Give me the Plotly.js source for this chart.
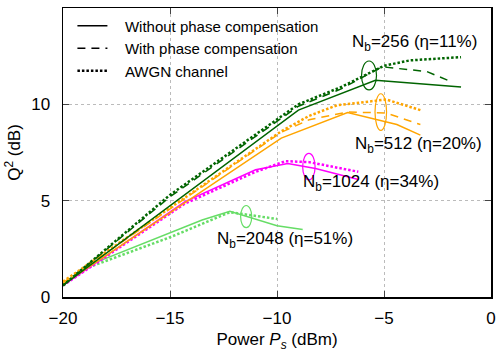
<!DOCTYPE html>
<html>
<head>
<meta charset="utf-8">
<script src="https://cdn.plot.ly/plotly-3.0.1.min.js"></script>
<style>
  body { margin: 0; background: #fff; }
  #chart { width: 499px; height: 352px; }
</style>
</head>
<body>
<div id="chart"></div>
<script>
// ----- data (power in dBm, Q^2 in dB) -----
const nb256SolidX = [-20, -9, -5.4, -1.4];
const nb256SolidY = [0.6, 9.7, 11.25, 10.9];
const nb256DashX = [-20, -15, -9, -7, -5.1, -3, -1.8];
const nb256DashY = [0.6, 5.2, 9.9, 10.8, 11.95, 11.7, 11.15];
const nb256DotX = [-20, -15, -9, -7, -5, -3.8, -1.4];
const nb256DotY = [0.6, 5.3, 10.0, 10.9, 12.0, 12.28, 12.45];

const nb512SolidX = [-20, -9.8, -6.7, -4.4, -3.3];
const nb512SolidY = [0.65, 8.25, 9.57, 8.95, 8.4];
const nb512DashX = [-20, -9.8, -8.5, -6.7, -4.9, -3.3];
const nb512DashY = [0.75, 8.55, 9.2, 9.6, 9.55, 8.95];
const nb512DotX = [-20, -9.8, -8.5, -7.2, -4.9, -3.3];
const nb512DotY = [0.8, 8.6, 9.4, 9.95, 10.25, 9.7];

const nb1024SolidX = [-20, -14.3, -11, -9.5, -8.2, -6.2];
const nb1024SolidY = [0.6, 4.95, 6.6, 6.93, 6.67, 6.1];
const nb1024DotX = [-20, -14.3, -11, -9.6, -8.5, -6.2];
const nb1024DotY = [0.6, 4.85, 6.5, 7.05, 7.0, 6.5];

const nb2048SolidX = [-20, -18.9, -13.5, -12.2, -10, -8.8];
const nb2048SolidY = [0.6, 1.6, 4.0, 4.45, 3.7, 3.5];
const nb2048DotX = [-20, -18.9, -15, -12.2, -10];
const nb2048DotY = [0.6, 1.5, 3.1, 4.4, 4.05];

const groupLabels = ["256 (η=11%)", "512 (η=20%)", "1024 (η=34%)", "2048 (η=51%)"];
const labelX = [-6.6, -6.45, -8.9, -12.9];
const labelY = [13.2, 7.9, 5.9, 2.95];
// loops marking each group: [x0, x1, y0, y1]
const loopBoxes = [
  [-6.05, -5.35, 10.75, 12.25],
  [-5.42, -4.88, 8.65, 10.55],
  [-8.8, -8.22, 6.08, 7.45],
  [-11.7, -11.18, 3.6, 4.75]
];

const colors = ["#006400", "#ffa500", "#ff00ff", "#66dd66"];

function line(x, y, color, dash, width) {
  return {
    x: x, y: y, type: "scatter", mode: "lines", showlegend: false,
    line: { color: color, dash: dash, width: width }, hoverinfo: "skip"
  };
}

const DOT = "2.5px,2px";

const traces = [
  line(nb2048SolidX, nb2048SolidY, colors[3], "solid", 1.5),
  line(nb2048DotX, nb2048DotY, colors[3], DOT, 2.5),
  line(nb1024SolidX, nb1024SolidY, colors[2], "solid", 1.5),
  line(nb1024DotX, nb1024DotY, colors[2], DOT, 2.5),
  line(nb512SolidX, nb512SolidY, colors[1], "solid", 1.5),
  line(nb512DashX, nb512DashY, colors[1], "8px,6px", 1.5),
  line(nb512DotX, nb512DotY, colors[1], DOT, 2.5),
  line(nb256SolidX, nb256SolidY, colors[0], "solid", 1.5),
  line(nb256DashX, nb256DashY, colors[0], "8px,6px", 1.5),
  line(nb256DotX, nb256DotY, colors[0], DOT, 2.5)
];

// legend-only entries
const legendNames = ["Without phase compensation", "With phase compensation", "AWGN channel"];
const legendDash = ["solid", "8px,6px", DOT];
legendNames.forEach((name, i) => {
  traces.push({
    x: [null], y: [null], type: "scatter", mode: "lines",
    name: "\u00a0\u00a0\u00a0" + name,
    line: { color: "#000", dash: legendDash[i], width: i === 2 ? 2.5 : 1.5 }
  });
});

const annotations = groupLabels.map((t, i) => ({
  x: labelX[i], y: labelY[i], xref: "x", yref: "y",
  text: "N<sub>b</sub>=" + t, showarrow: false, xanchor: "left",
  font: { size: 17, color: "#000" }
}));

const shapes = loopBoxes.map((b, i) => ({
  type: "circle", xref: "x", yref: "y",
  x0: b[0], x1: b[1], y0: b[2], y1: b[3],
  line: { color: colors[i], width: 1.2 }
}));

const axisFont = { family: "Liberation Sans, Arial, sans-serif", size: 17, color: "#000" };

const layout = {
  width: 499, height: 352,
  margin: { l: 63, r: 8, t: 8, b: 55 },
  paper_bgcolor: "#fff", plot_bgcolor: "#fff",
  font: axisFont,
  showlegend: true,
  legend: {
    x: 0.022, y: 0.995, xanchor: "left", yanchor: "top",
    bgcolor: "rgba(0,0,0,0)", font: { size: 15, color: "#000" },
    tracegroupgap: 0
  },
  xaxis: {
    range: [-20, 0], tickvals: [-20, -15, -10, -5, 0],
    ticks: "inside", ticklen: 6, mirror: "ticks", ticklabelstandoff: 5,
    showline: true, linecolor: "#000", linewidth: 1.5,
    showgrid: true, gridcolor: "#bbb", griddash: "dot", gridwidth: 1,
    zeroline: false, tickfont: axisFont,
    title: { text: "Power <i>P<sub>s</sub></i> (dBm)", font: axisFont, standoff: 6 }
  },
  yaxis: {
    range: [0, 15], tickvals: [0, 5, 10, 15],
    ticks: "inside", ticklen: 6, mirror: "ticks", ticklabelstandoff: 8,
    showline: true, linecolor: "#000", linewidth: 1.5,
    showgrid: true, gridcolor: "#bbb", griddash: "dot", gridwidth: 1,
    zeroline: false, tickfont: axisFont,
    title: { text: "Q<sup>2</sup> (dB)", font: axisFont, standoff: 6 }
  },
  annotations: annotations,
  shapes: shapes
};

Plotly.newPlot("chart", traces, layout, { displayModeBar: false, staticPlot: true });
</script>
</body>
</html>
